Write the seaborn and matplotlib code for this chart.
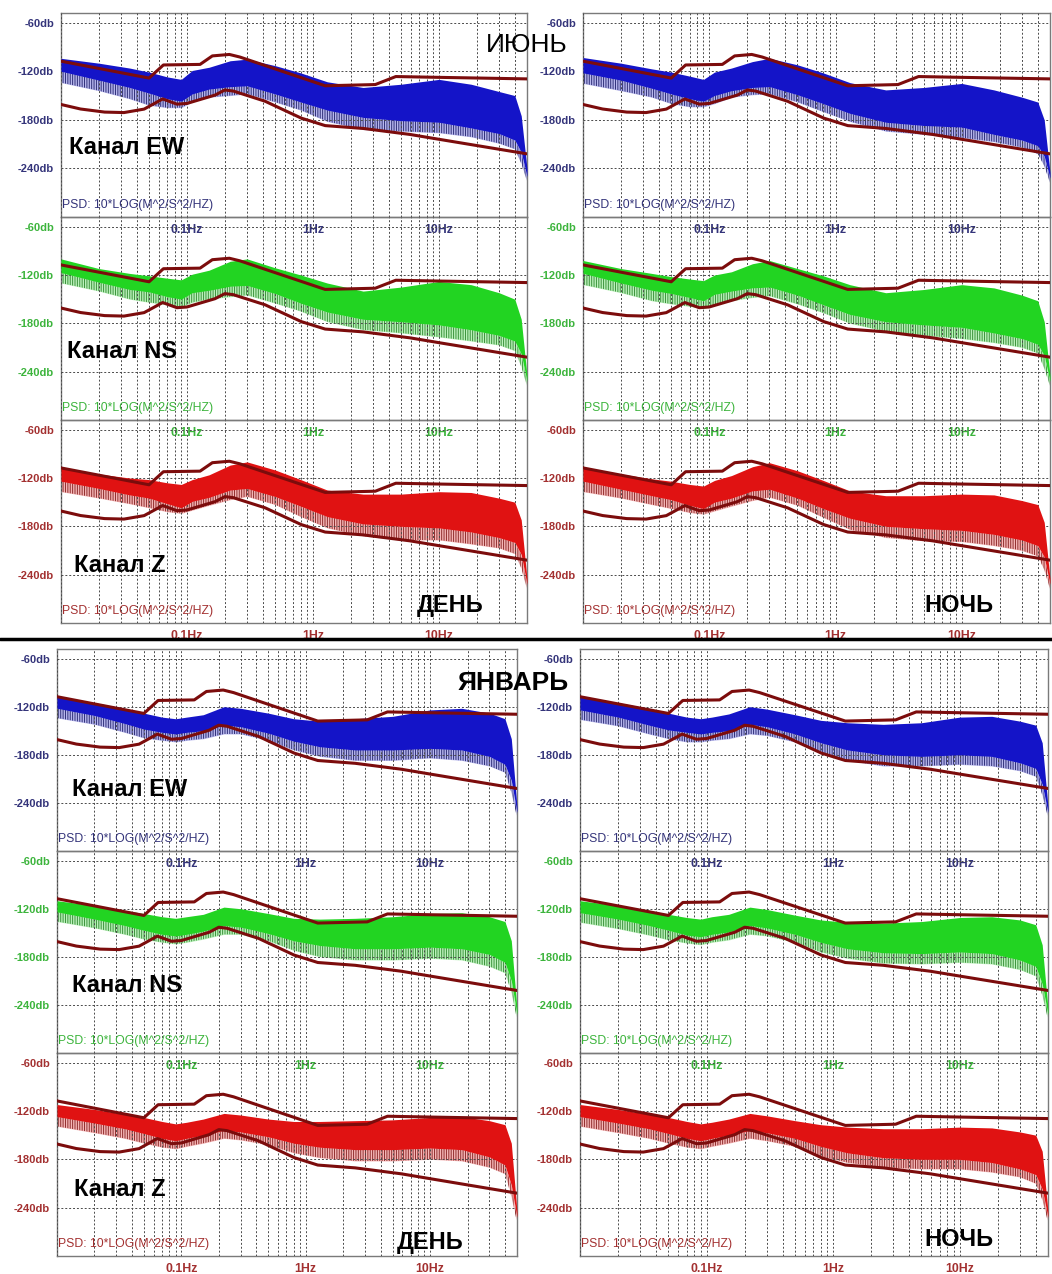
import matplotlib
matplotlib.use("Agg")
import matplotlib.pyplot as plt
from matplotlib.lines import Line2D
from matplotlib.ticker import FixedLocator, LogLocator, NullFormatter
import seaborn as sns

W, H = 1052, 1274

# frequency grid (Hz) used for all spectra envelopes
FREQ = [0.01, 0.02, 0.035, 0.05, 0.07, 0.09, 0.11, 0.15, 0.22, 0.3, 0.5,
        0.8, 1.3, 2.5, 5, 10, 18, 30, 40, 45, 50]

# Peterson noise models (velocity, dB)
NLNM_FREQ = [0.01, 0.0143, 0.0222, 0.0316, 0.0457, 0.0641, 0.0833, 0.1, 0.167,
             0.2, 0.233, 0.417, 0.806, 1.25, 2.5, 5.88, 10, 50]
NLNM_DB = [-161, -166.6, -170.4, -171, -166.7, -154.2, -160.6, -159.7, -149.4,
           -143.1, -144.4, -157, -177.8, -187.1, -190.6, -198, -204, -222]
NHNM_FREQ = [0.01, 0.05, 0.065, 0.127, 0.159, 0.217, 0.263, 1.25, 3.125, 4.545, 10, 50]
NHNM_DB = [-107.5, -128.4, -112.2, -111.5, -101, -99.2, -102.4, -137.9, -136.4,
           -126.5, -127.5, -129.4]

# June, day
JUN_DAY_EW_UP = [-104, -110, -116, -121, -127, -130, -119, -115, -107, -105, -113, -122, -133, -140, -136, -130, -136, -145, -150, -175, -240]
JUN_DAY_EW_LO = [-120, -131, -140, -147, -154, -157, -148, -142, -139, -138, -148, -158, -168, -177, -181, -183, -190, -197, -205, -220, -250]
JUN_DAY_EW_SP = [-134, -144, -154, -162, -165, -165, -158, -152, -150, -148, -158, -168, -182, -192, -194, -196, -201, -209, -216, -234, -256]
JUN_DAY_NS_UP = [-100, -112, -118, -121, -124, -126, -119, -114, -103, -100, -111, -120, -130, -140, -135, -128, -132, -142, -150, -175, -245]
JUN_DAY_NS_LO = [-117, -129, -138, -141, -147, -150, -142, -139, -134, -133, -143, -155, -166, -175, -178, -182, -188, -195, -202, -218, -252]
JUN_DAY_NS_SP = [-130, -140, -150, -154, -157, -160, -154, -150, -147, -145, -155, -165, -178, -188, -192, -197, -202, -207, -214, -234, -258]
JUN_DAY_Z_UP = [-108, -115, -120, -122, -126, -128, -122, -116, -104, -100, -110, -122, -135, -140, -140, -137, -138, -145, -150, -172, -245]
JUN_DAY_Z_LO = [-124, -133, -141, -145, -152, -157, -149, -144, -135, -133, -143, -155, -168, -177, -180, -182, -187, -194, -200, -215, -252]
JUN_DAY_Z_SP = [-137, -145, -152, -157, -162, -164, -160, -154, -147, -143, -153, -168, -182, -192, -197, -197, -202, -207, -214, -232, -258]

# June, night
JUN_NIGHT_EW_UP = [-103, -110, -117, -121, -126, -130, -121, -116, -108, -104, -112, -122, -134, -143, -140, -135, -143, -152, -158, -180, -245]
JUN_NIGHT_EW_LO = [-122, -131, -141, -148, -154, -157, -150, -144, -140, -139, -149, -160, -172, -183, -187, -189, -198, -205, -212, -225, -252]
JUN_NIGHT_EW_SP = [-135, -144, -152, -160, -164, -164, -160, -152, -149, -148, -158, -170, -182, -194, -198, -202, -207, -214, -222, -237, -258]
JUN_NIGHT_NS_UP = [-102, -112, -118, -122, -125, -127, -120, -116, -106, -102, -112, -121, -132, -142, -138, -132, -136, -145, -152, -178, -245]
JUN_NIGHT_NS_LO = [-118, -130, -139, -143, -148, -152, -144, -140, -136, -135, -145, -157, -169, -178, -182, -185, -192, -199, -206, -220, -252]
JUN_NIGHT_NS_SP = [-132, -142, -152, -156, -159, -162, -157, -152, -148, -146, -156, -167, -180, -190, -195, -199, -204, -210, -217, -236, -258]
JUN_NIGHT_Z_UP = [-108, -115, -121, -124, -128, -130, -123, -117, -106, -101, -111, -123, -136, -142, -142, -140, -141, -148, -153, -175, -245]
JUN_NIGHT_Z_LO = [-124, -134, -142, -147, -154, -158, -150, -145, -136, -134, -145, -158, -170, -180, -183, -185, -190, -197, -204, -218, -252]
JUN_NIGHT_Z_SP = [-137, -145, -153, -158, -163, -165, -161, -155, -148, -144, -154, -169, -184, -194, -198, -199, -204, -210, -217, -234, -258]

# January, day
JAN_DAY_EW_UP = [-108, -115, -122, -128, -133, -135, -133, -130, -120, -122, -128, -135, -138, -135, -132, -124, -122, -128, -135, -160, -245]
JAN_DAY_EW_LO = [-122, -131, -141, -148, -152, -154, -152, -150, -143, -145, -153, -163, -170, -174, -174, -172, -174, -182, -192, -212, -252]
JAN_DAY_EW_SP = [-134, -142, -152, -159, -162, -164, -162, -160, -154, -154, -162, -174, -182, -187, -187, -184, -187, -194, -202, -227, -258]
JAN_DAY_NS_UP = [-110, -116, -122, -126, -130, -132, -130, -127, -118, -120, -126, -132, -133, -132, -130, -126, -125, -130, -136, -160, -245]
JAN_DAY_NS_LO = [-124, -133, -141, -147, -152, -154, -152, -148, -141, -143, -151, -160, -166, -170, -170, -168, -170, -177, -187, -210, -252]
JAN_DAY_NS_SP = [-136, -144, -152, -158, -162, -164, -162, -158, -152, -152, -160, -172, -180, -184, -184, -182, -184, -192, -200, -224, -258]
JAN_DAY_Z_UP = [-112, -118, -124, -128, -133, -136, -134, -130, -123, -125, -130, -133, -133, -132, -131, -128, -127, -132, -137, -160, -245]
JAN_DAY_Z_LO = [-127, -135, -142, -148, -154, -157, -154, -150, -144, -146, -152, -160, -165, -168, -168, -166, -168, -177, -187, -212, -252]
JAN_DAY_Z_SP = [-139, -147, -154, -160, -165, -167, -164, -160, -154, -156, -162, -172, -178, -182, -182, -180, -182, -190, -198, -226, -258]

# January, night
JAN_NIGHT_EW_UP = [-108, -115, -122, -128, -133, -135, -133, -129, -120, -123, -130, -137, -140, -142, -140, -133, -132, -138, -143, -165, -245]
JAN_NIGHT_EW_LO = [-124, -133, -143, -149, -152, -154, -152, -150, -142, -145, -154, -165, -174, -180, -182, -180, -182, -190, -197, -217, -252]
JAN_NIGHT_EW_SP = [-136, -144, -154, -160, -164, -164, -162, -160, -154, -156, -164, -177, -187, -194, -194, -192, -194, -200, -207, -230, -258]
JAN_NIGHT_NS_UP = [-110, -116, -122, -127, -131, -133, -130, -127, -118, -121, -128, -134, -137, -138, -136, -131, -130, -134, -140, -165, -245]
JAN_NIGHT_NS_LO = [-125, -133, -141, -147, -153, -155, -152, -149, -141, -144, -152, -162, -170, -175, -176, -174, -176, -184, -192, -214, -252]
JAN_NIGHT_NS_SP = [-137, -145, -153, -159, -163, -165, -162, -159, -152, -154, -162, -174, -182, -188, -189, -187, -189, -196, -204, -228, -258]
JAN_NIGHT_Z_UP = [-112, -118, -124, -128, -133, -136, -134, -130, -123, -126, -132, -137, -140, -142, -142, -140, -141, -146, -150, -170, -245]
JAN_NIGHT_Z_LO = [-127, -135, -142, -148, -154, -157, -154, -150, -144, -147, -154, -164, -172, -178, -180, -180, -184, -192, -199, -217, -252]
JAN_NIGHT_Z_SP = [-139, -147, -154, -160, -165, -167, -164, -160, -154, -157, -164, -176, -184, -190, -192, -192, -196, -202, -210, -230, -258]

Y_TICKS = [-60, -120, -180, -240]
Y_LABELS = ["-60db", "-120db", "-180db", "-240db"]
X_TICKS = [0.01, 0.1, 1, 10]
X_LABELS = ["", "0.1Hz", "1Hz", "10Hz"]
CHANNELS = ["EW", "NS", "Z"]

# fill colour, spike colour, tick label colour
CH_STYLE = {
    "EW": ("#1414c8", "#0c0c5a", "#34347a"),
    "NS": ("#22d422", "#1b7a1b", "#3cb43c"),
    "Z": ("#e01212", "#760a0a", "#a33030"),
}
MODEL_COLOR = "#7c0c0c"

# panel boxes in pixels: (left, right) for each column, (top, bottom) for each row
SECTIONS = [
    {
        "cols": [(61, 527), (583, 1050)],
        "rows": [(13, 217), (217, 420), (420, 623)],
        "data": [
            [(JUN_DAY_EW_UP, JUN_DAY_EW_LO, JUN_DAY_EW_SP),
             (JUN_DAY_NS_UP, JUN_DAY_NS_LO, JUN_DAY_NS_SP),
             (JUN_DAY_Z_UP, JUN_DAY_Z_LO, JUN_DAY_Z_SP)],
            [(JUN_NIGHT_EW_UP, JUN_NIGHT_EW_LO, JUN_NIGHT_EW_SP),
             (JUN_NIGHT_NS_UP, JUN_NIGHT_NS_LO, JUN_NIGHT_NS_SP),
             (JUN_NIGHT_Z_UP, JUN_NIGHT_Z_LO, JUN_NIGHT_Z_SP)],
        ],
    },
    {
        "cols": [(57, 517), (580, 1048)],
        "rows": [(649, 851), (851, 1053), (1053, 1256)],
        "data": [
            [(JAN_DAY_EW_UP, JAN_DAY_EW_LO, JAN_DAY_EW_SP),
             (JAN_DAY_NS_UP, JAN_DAY_NS_LO, JAN_DAY_NS_SP),
             (JAN_DAY_Z_UP, JAN_DAY_Z_LO, JAN_DAY_Z_SP)],
            [(JAN_NIGHT_EW_UP, JAN_NIGHT_EW_LO, JAN_NIGHT_EW_SP),
             (JAN_NIGHT_NS_UP, JAN_NIGHT_NS_LO, JAN_NIGHT_NS_SP),
             (JAN_NIGHT_Z_UP, JAN_NIGHT_Z_LO, JAN_NIGHT_Z_SP)],
        ],
    },
]


def px_text(fig, x, y, s, **kw):
    fig.text(x / W, 1 - y / H, s, **kw)


def draw_panel(fig, box, ch, up, lo, sp):
    (x0, x1), (y0, y1) = box
    ax = fig.add_axes([x0 / W, 1 - y1 / H, (x1 - x0) / W, (y1 - y0) / H])
    ax.set_facecolor("none")
    fill, dark, lab = CH_STYLE[ch]
    ax.set_xscale("log")

    # spiky fringe under the band
    ax.fill_between(FREQ, sp, lo, color=fill, alpha=0.3, linewidth=0, zorder=2)
    ax.fill_between(FREQ, sp, lo, facecolor="none", edgecolor=dark,
                    hatch="|" * 7, linewidth=0, alpha=0.8, zorder=2)
    ax.fill_between(FREQ, lo, up, color=fill, linewidth=0, zorder=3)
    sns.lineplot(x=NHNM_FREQ, y=NHNM_DB, ax=ax, color=MODEL_COLOR, lw=2.2,
                 estimator=None, sort=False, legend=False, zorder=4)
    sns.lineplot(x=NLNM_FREQ, y=NLNM_DB, ax=ax, color=MODEL_COLOR, lw=2.2,
                 estimator=None, sort=False, legend=False, zorder=4)

    ax.set_xlim(0.01, 50)
    ax.set_ylim(-300, -48)
    ax.xaxis.set_major_locator(FixedLocator(X_TICKS))
    ax.set_xticklabels(X_LABELS)
    ax.xaxis.set_minor_locator(LogLocator(base=10, subs=range(2, 10)))
    ax.xaxis.set_minor_formatter(NullFormatter())
    ax.set_yticks(Y_TICKS)
    ax.set_yticklabels(Y_LABELS)
    ax.set_xlabel("")
    ax.set_ylabel("")

    grid_kw = dict(color="#4a4a4a", linestyle=(0, (2.0, 2.0)), linewidth=0.7)
    ax.grid(which="both", axis="x", **grid_kw)
    ax.grid(which="major", axis="y", **grid_kw)
    ax.set_axisbelow(False)

    ax.tick_params(axis="y", direction="out", length=4, width=0.8, color="#555",
                   labelsize=8, labelcolor=lab, pad=1)
    ax.tick_params(axis="x", which="major", direction="inout", length=5, width=0.8,
                   color="#555", labelsize=8.8, labelcolor=lab, pad=2.5)
    ax.tick_params(axis="x", which="minor", length=0)
    for t in ax.get_xticklabels() + ax.get_yticklabels():
        t.set_fontweight("bold")
    for s in ax.spines.values():
        s.set_color("#7a7a7a")
        s.set_linewidth(1.0)

    ax.text(0.003, 0.03, "PSD: 10*LOG(M^2/S^2/HZ)", transform=ax.transAxes,
            fontsize=8.8, color=lab, ha="left", va="bottom")
    return ax


def main():
    sns.set_theme(style="white")
    plt.rcParams["font.family"] = ["Liberation Sans", "DejaVu Sans"]
    plt.rcParams["hatch.linewidth"] = 0.7

    fig = plt.figure(figsize=(W / 100, H / 100), dpi=100, facecolor="white")

    for sec in SECTIONS:
        for ci, col in enumerate(sec["cols"]):
            for ri, row in enumerate(sec["rows"]):
                up, lo, sp = sec["data"][ci][ri]
                draw_panel(fig, (col, row), CHANNELS[ri], up, lo, sp)

    lab = dict(color="black", fontsize=17, fontweight="bold", va="center", ha="left")
    month = dict(color="black", fontsize=19, va="center", ha="left")
    # June block
    px_text(fig, 69, 148, "Канал EW", **lab)
    px_text(fig, 67, 352, "Канал NS", **lab)
    px_text(fig, 74, 565, "Канал Z", **lab)
    px_text(fig, 486, 45, "ИЮНЬ", **month)
    px_text(fig, 417, 605, "ДЕНЬ", **lab)
    px_text(fig, 924, 605, "НОЧЬ", **lab)
    # January block
    px_text(fig, 72, 790, "Канал EW", **lab)
    px_text(fig, 72, 985, "Канал NS", **lab)
    px_text(fig, 74, 1190, "Канал Z", **lab)
    px_text(fig, 458, 683, "ЯНВАРЬ", fontweight="bold", **month)
    px_text(fig, 397, 1243, "ДЕНЬ", **lab)
    px_text(fig, 924, 1240, "НОЧЬ", **lab)

    fig.add_artist(Line2D([0, 1], [1 - 639 / H] * 2, color="black", lw=2.5,
                          transform=fig.transFigure))

    fig.savefig("out.png", dpi=100, facecolor="white")


if __name__ == "__main__":
    main()
